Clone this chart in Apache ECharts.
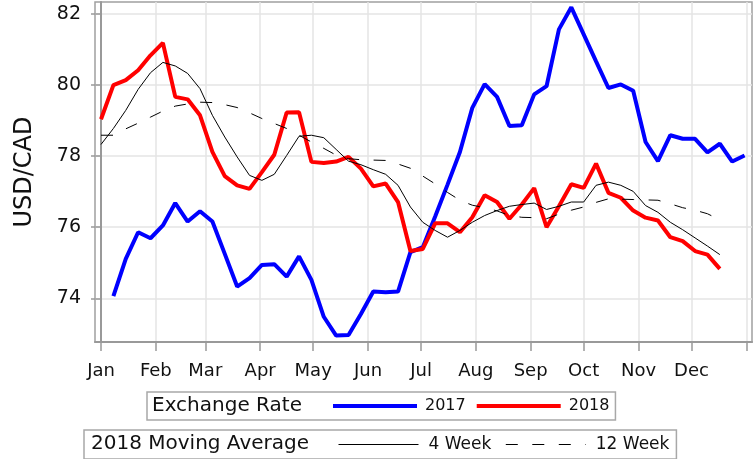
<!DOCTYPE html>
<html>
<head>
<meta charset="utf-8">
<script src="https://cdn.jsdelivr.net/npm/echarts@6/dist/echarts.min.js"></script>
<style>
  html, body { margin: 0; padding: 0; background: #fff; }
  #chart { width: 756px; height: 459px; }
</style>
</head>
<body>
<div id="chart"></div>
<script>
// month ticks (day of year)
var monthNames = ['Jan', 'Feb', 'Mar', 'Apr', 'May', 'Jun', 'Jul', 'Aug', 'Sep', 'Oct', 'Nov', 'Dec'];
var monthStarts = [0, 31, 59, 90, 120, 151, 181, 212, 243, 273, 304, 334, 365];
var yTicks = [74, 76, 78, 80, 82];

// weekly points, x = day of year
var days2017 = [7, 14, 21, 28, 35, 42, 49, 56, 63, 70, 77, 84, 91, 98, 105, 112, 119, 126, 133, 140,
  147, 154, 161, 168, 175, 182, 189, 196, 203, 210, 217, 224, 231, 238, 245, 252, 259, 266, 273, 280,
  287, 294, 301, 308, 315, 322, 329, 336, 343, 350, 357, 364];
var days2018 = [0, 7, 14, 21, 28, 35, 42, 49, 56, 63, 70, 77, 84, 91, 98, 105, 112, 119, 126, 133,
  140, 147, 154, 161, 168, 175, 182, 189, 196, 203, 210, 217, 224, 231, 238, 245, 252, 259, 266, 273,
  280, 287, 294, 301, 308, 315, 322, 329, 336, 343, 350];

var rate2017 = [74.06, 75.11, 75.86, 75.69, 76.05, 76.68, 76.16, 76.45, 76.16, 75.25,
  74.33, 74.57, 74.94, 74.96, 74.61, 75.18, 74.52, 73.48, 72.95, 72.97,
  73.56, 74.19, 74.17, 74.19, 75.30, 75.44, 76.30, 77.20, 78.12, 79.36,
  80.03, 79.67, 78.85, 78.87, 79.74, 79.97, 81.57, 82.19, 81.43, 80.67,
  79.92, 80.02, 79.84, 78.40, 77.86, 78.59, 78.49, 78.49, 78.11, 78.35, 77.85, 78.02];
var rate2018 = [79.04, 80.00, 80.14, 80.42, 80.84, 81.19, 79.67, 79.60, 79.15, 78.12,
  77.44, 77.18, 77.08, 77.55, 78.04, 79.23, 79.24, 77.84, 77.81, 77.85,
  77.98, 77.65, 77.15, 77.23, 76.71, 75.33, 75.39, 76.11, 76.11, 75.86,
  76.28, 76.90, 76.71, 76.24, 76.64, 77.10, 76.00, 76.59, 77.21, 77.11,
  77.79, 76.97, 76.83, 76.47, 76.27, 76.19, 75.72, 75.61, 75.33, 75.23, 74.83];
var ma4 = [78.33, 78.78, 79.29, 79.88, 80.35, 80.64, 80.54, 80.33, 79.90, 79.15,
  78.54, 77.98, 77.46, 77.32, 77.49, 78.02, 78.56, 78.59, 78.52, 78.19,
  77.86, 77.76, 77.62, 77.49, 77.18, 76.57, 76.14, 75.91, 75.72, 75.91,
  76.14, 76.33, 76.47, 76.59, 76.64, 76.68, 76.50, 76.59, 76.71, 76.71,
  77.18, 77.27, 77.18, 77.01, 76.61, 76.42, 76.14, 75.93, 75.70, 75.47, 75.23];
var ma12 = [78.59, 78.59, 78.77, 78.93, 79.10, 79.27, 79.41, 79.47, 79.52, 79.51,
  79.45, 79.37, 79.22, 79.06, 78.92, 78.78, 78.59, 78.40, 78.22, 78.03,
  77.93, 77.90, 77.89, 77.88, 77.78, 77.66, 77.44, 77.22, 76.98, 76.76,
  76.62, 76.55, 76.46, 76.33, 76.28, 76.27, 76.24, 76.37, 76.48, 76.57,
  76.70, 76.80, 76.79, 76.78, 76.77, 76.76, 76.66, 76.55, 76.48, 76.38, 76.21];

function pairs(xs, ys) {
  var out = [];
  for (var i = 0; i < ys.length; i++) {
    out.push([xs[i], ys[i]]);
  }
  return out;
}

var FONT = 'DejaVu Sans';
var chart = echarts.init(document.getElementById('chart'), null, { renderer: 'canvas' });

// legend symbol is hidden, only the line sample stays
var noSymbol = { opacity: 0, color: 'rgba(0,0,0,0)', borderWidth: 0 };

var option = {
  animation: false,
  textStyle: { fontFamily: FONT },
  grid: {
    left: 95, right: 4, top: 2, bottom: 117,
    show: true, borderColor: '#a0a0a0', borderWidth: 1.5, backgroundColor: 'transparent'
  },
  xAxis: {
    type: 'value',
    min: -3.4, max: 368.2,
    axisLine: { show: true, lineStyle: { color: '#999', width: 2 } },
    axisTick: { show: true, length: 9, lineStyle: { color: '#999', width: 1.5 }, customValues: monthStarts },
    axisLabel: {
      customValues: monthStarts.slice(0, 12),
      margin: 20, fontSize: 18, color: '#111', fontFamily: FONT,
      formatter: function (v) { return monthNames[monthStarts.indexOf(v)]; }
    },
    splitLine: { show: true, lineStyle: { color: '#e4e4e4', width: 1.5 } }
  },
  yAxis: {
    type: 'value',
    min: 72.77, max: 82.34,
    name: 'USD/CAD', nameLocation: 'middle', nameGap: 58,
    nameTextStyle: { fontSize: 24, color: '#111', fontFamily: FONT },
    axisLine: { show: true, lineStyle: { color: '#999', width: 2 } },
    axisTick: { show: true, length: 10, lineStyle: { color: '#999', width: 1.5 }, customValues: yTicks },
    axisLabel: { customValues: yTicks, margin: 14, fontSize: 19, color: '#111', fontFamily: FONT },
    splitLine: { show: true, lineStyle: { color: '#e4e4e4', width: 1.5 } }
  },
  legend: [
    {
      data: ['2017', '2018'],
      left: 147, top: 392,
      orient: 'horizontal',
      padding: [6, 6, 6, 184],
      itemWidth: 84, itemHeight: 14, itemGap: 9,
      borderColor: '#a8a8a8', borderWidth: 1.5,
      selectedMode: false,
      itemStyle: noSymbol,
      lineStyle: { width: 4 },
      textStyle: { fontSize: 16, color: '#111', fontFamily: FONT, padding: [0, 0, 0, 3] }
    },
    {
      data: ['4 Week', '12 Week'],
      left: 84, top: 430,
      orient: 'horizontal',
      padding: [6, 7, 6, 254],
      itemWidth: 80, itemHeight: 14, itemGap: 14,
      borderColor: '#a8a8a8', borderWidth: 1.5,
      selectedMode: false,
      itemStyle: noSymbol,
      lineStyle: { width: 1 },
      textStyle: { fontSize: 17, color: '#111', fontFamily: FONT, padding: [0, 0, 0, 5] }
    }
  ],
  graphic: [
    { type: 'text', left: 152, top: 396, style: { text: 'Exchange Rate', font: '20px "DejaVu Sans"', fill: '#111' } },
    { type: 'text', left: 91, top: 434, style: { text: '2018 Moving Average', font: '20px "DejaVu Sans"', fill: '#111' } }
  ],
  series: [
    {
      name: '2017', type: 'line', data: pairs(days2017, rate2017),
      symbol: 'none', lineStyle: { color: '#0000ff', width: 4 }, itemStyle: { color: '#0000ff' }
    },
    {
      name: '2018', type: 'line', data: pairs(days2018, rate2018),
      symbol: 'none', lineStyle: { color: '#ff0000', width: 4 }, itemStyle: { color: '#ff0000' }
    },
    {
      name: '4 Week', type: 'line', data: pairs(days2018, ma4),
      symbol: 'none', lineStyle: { color: '#000', width: 1 }, itemStyle: { color: '#000' }
    },
    {
      name: '12 Week', type: 'line', data: pairs(days2018, ma12),
      symbol: 'none', lineStyle: { color: '#000', width: 1, type: [12, 14.5] }, itemStyle: { color: '#000' }
    }
  ]
};

chart.setOption(option);
</script>
</body>
</html>
